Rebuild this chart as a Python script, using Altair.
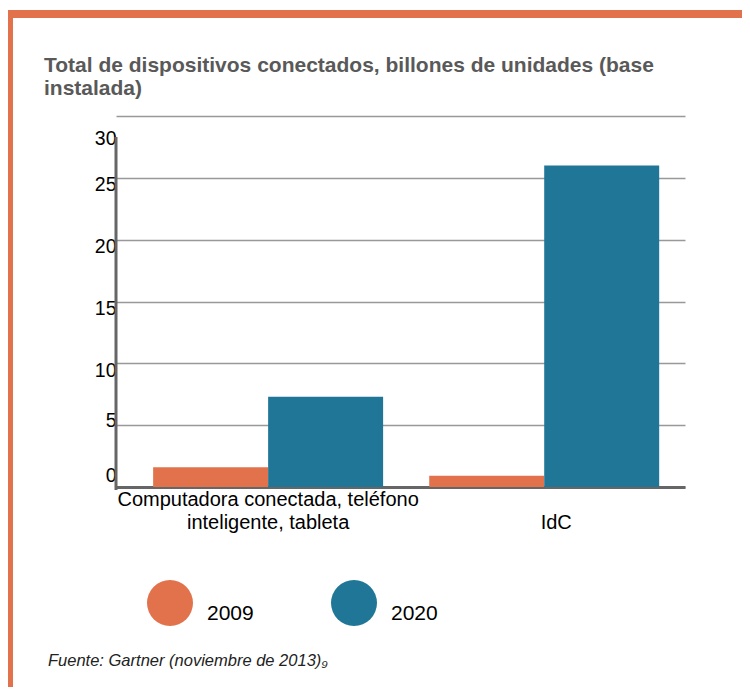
import altair as alt
import pandas as pd

categories = ["Computadora conectada, teléfono\ninteligente, tableta", "IdC"]
years = ["2009", "2020"]
values_2009 = [1.6, 0.9]
values_2020 = [7.3, 26.0]
colors = ["#E1724C", "#207697"]
y_ticks = [0, 5, 10, 15, 20, 25, 30]
title_lines = ["Total de dispositivos conectados, billones de unidades (base", "instalada)"]
source_text = "Fuente: Gartner (noviembre de 2013)\u2089"

rows = []
for c, a, b in zip(categories, values_2009, values_2020):
    rows.append({"cat": c, "year": years[0], "value": a})
    rows.append({"cat": c, "year": years[1], "value": b})
df = pd.DataFrame(rows)

FONT = "Liberation Sans"
W, H = 569, 371
one = alt.Data(values=[{"k": 1}])

bars = alt.Chart(df).mark_bar().encode(
    x=alt.X("cat:N", sort=categories, title=None,
            scale=alt.Scale(paddingInner=0.167, paddingOuter=0.114, align=0.59),
            axis=alt.Axis(labelAngle=0, ticks=False, domainColor="#666666", domainWidth=3,
                          labelFont=FONT, labelColor="#000000", labelFontSize=20,
                          labelOffset={"condition": {"test": "datum.label == 'IdC'", "value": 12}, "value": 0},
                          labelLineHeight=23, labelPadding=2, labelLimit=400,
                          labelExpr="datum.label == 'IdC' ? ['', 'IdC'] : split(datum.label, '\\n')")),
    xOffset=alt.XOffset("year:N", sort=years),
    y=alt.Y("value:Q", title=None,
            scale=alt.Scale(domain=[0, 30], nice=False),
            axis=alt.Axis(values=y_ticks, ticks=False, domain=False, gridColor="#999999", gridWidth=1.5,
                          labelFont=FONT, labelFontSize=19.5, labelColor="#000000", labelPadding=0,
                          labelOffset={"condition": [{"test": "datum.value == 30", "value": 22},
                                                     {"test": "datum.value == 0", "value": -12},
                                                     {"test": "datum.value == 5", "value": -5}],
                                       "value": 7})),
    color=alt.Color("year:N", sort=years, scale=alt.Scale(domain=years, range=colors),
                    legend=alt.Legend(title=None, orient="none", legendX=31, legendY=464,
                                      direction="horizontal", symbolType="circle", symbolSize=2116,
                                      symbolStrokeWidth=0, labelFont=FONT, labelFontSize=21,
                                      labelColor="#000000", labelOffset=14, columnPadding=77,
                                      labelBaseline="top", padding=0)),
)

yline = alt.Chart(one).mark_rule(color="#666666", strokeWidth=3).encode(
    x=alt.value(0), y=alt.value(21), y2=alt.value(374))

top_border = alt.Chart(one).mark_rect(color="#E1724C").encode(
    x=alt.value(-108), x2=alt.value(630), y=alt.value(-106), y2=alt.value(-98))
left_border = alt.Chart(one).mark_rect(color="#E1724C").encode(
    x=alt.value(-108), x2=alt.value(-103), y=alt.value(-106), y2=alt.value(580))

title = alt.Chart(one).mark_text(align="left", baseline="alphabetic", font=FONT, fontSize=21,
                                 fontWeight="bold", color="#595959", lineHeight=23).encode(
    x=alt.value(-72), y=alt.value(-44), text=alt.value(title_lines))

source = alt.Chart(one).mark_text(align="left", baseline="alphabetic", font=FONT, fontSize=16.5,
                                  fontStyle="italic", color="#222222").encode(
    x=alt.value(-68), y=alt.value(550), text=alt.value(source_text))

chart = alt.layer(bars, yline, top_border, left_border, title, source).properties(
    width=W, height=H,
    autosize=alt.AutoSizeParams(type="none"),
    padding={"left": 108, "top": 108, "right": 57, "bottom": 200},
).configure_view(stroke=None)

chart.save("out.html", embed_options={"renderer": "svg", "actions": False})
